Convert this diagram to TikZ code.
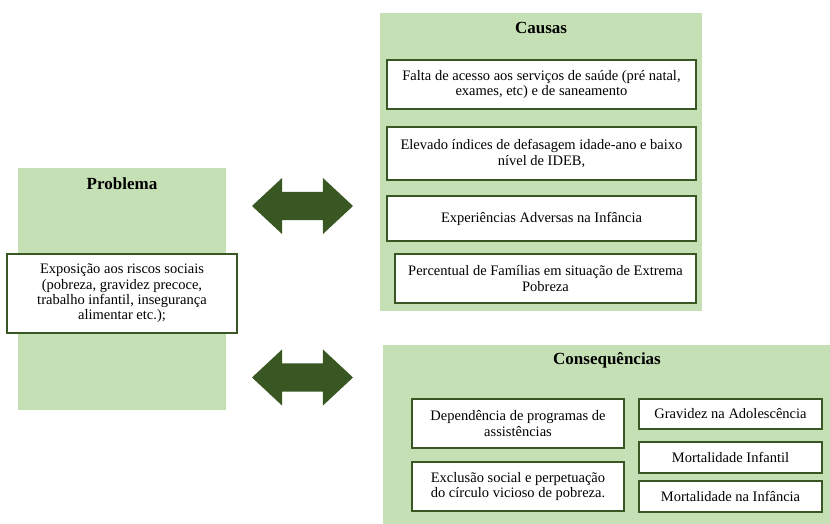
\documentclass[tikz,border=0pt]{standalone}
\usepackage{fontspec}
\setmainfont{Liberation Serif}
\usetikzlibrary{shapes.arrows,positioning}
\definecolor{panelgreen}{HTML}{C5E0B4}
\definecolor{darkgreen}{HTML}{385723}
\tikzset{
    panel/.style ={fill=panelgreen, inner sep=0pt},
    title/.style ={font=\fontsize{17}{19}\selectfont\bfseries},
    item/.style ={draw=darkgreen, line width=1.5pt, fill=white, align=center, inner sep=2pt, font=\fontsize{14.5}{15.4}\selectfont},
    link/.style ={double arrow, fill=darkgreen, minimum height=101pt, double arrow head extend=14pt, double arrow tip angle=86, inner xsep=0pt, inner ysep=14pt}
}

\begin{document}
\begin{tikzpicture}[x=1pt,y=-1pt]
	\useasboundingbox (0,0) rectangle (830,524);
	% panels
	\node[panel, minimum width=208pt, minimum height=242pt] (problema) at (122,289) {};
	\node[panel, minimum width=322pt, minimum height=298pt] (causas) at (541,162) {};
	\node[panel, minimum width=447pt, minimum height=179pt] (conseq) at (606.5,434.5) {};
	\node[title] (problematitle) at (122,184) {Problema};
	\node[title] (causastitle) at (541,28) {Causas};
	\node[title] (conseqtitle) at (607,360) {Consequências};

	% problem
	\node[item, minimum width=230pt, minimum height=79pt] (exposicao) at (122,293.5) {Exposição aos riscos sociais\\(pobreza, gravidez precoce,\\trabalho infantil, insegurança\\alimentar etc.);};

	% causes
	\node[item, minimum width=309pt, minimum height=49pt] (c1) at (541.5,84.5) {Falta de acesso aos serviços de saúde (pré natal,\\exames, etc) e de saneamento};
	\node[item, minimum width=309pt, minimum height=53pt] (c2) at (541.5,153.5) {Elevado índices de defasagem idade-ano e baixo\\nível de IDEB,};
	\node[item, minimum width=309pt, minimum height=45pt] (c3) at (541.5,218.5) {Experiências Adversas na Infância};
	\node[item, minimum width=301pt, minimum height=49pt] (c4) at (545.5,278.5) {Percentual de Famílias em situação de Extrema\\Pobreza};

	% consequences
	\node[item, minimum width=212pt, minimum height=49pt] (q1) at (518,423.5) {Dependência de programas de\\assistências};
	\node[item, minimum width=212pt, minimum height=49pt] (q2) at (518,486.5) {Exclusão social e perpetuação\\do círculo vicioso de pobreza.};
	\node[item, minimum width=183pt, minimum height=30pt] (q3) at (730.5,414) {Gravidez na Adolescência};
	\node[item, minimum width=183pt, minimum height=31pt] (q4) at (730.5,457.5) {Mortalidade Infantil};
	\node[item, minimum width=183pt, minimum height=31pt] (q5) at (730.5,496.5) {Mortalidade na Infância};

	% arrows
	\node[link] (link1) at (302.5,206) {};
	\node[link] (link2) at (302.5,377.5) {};
\end{tikzpicture}
\end{document}
